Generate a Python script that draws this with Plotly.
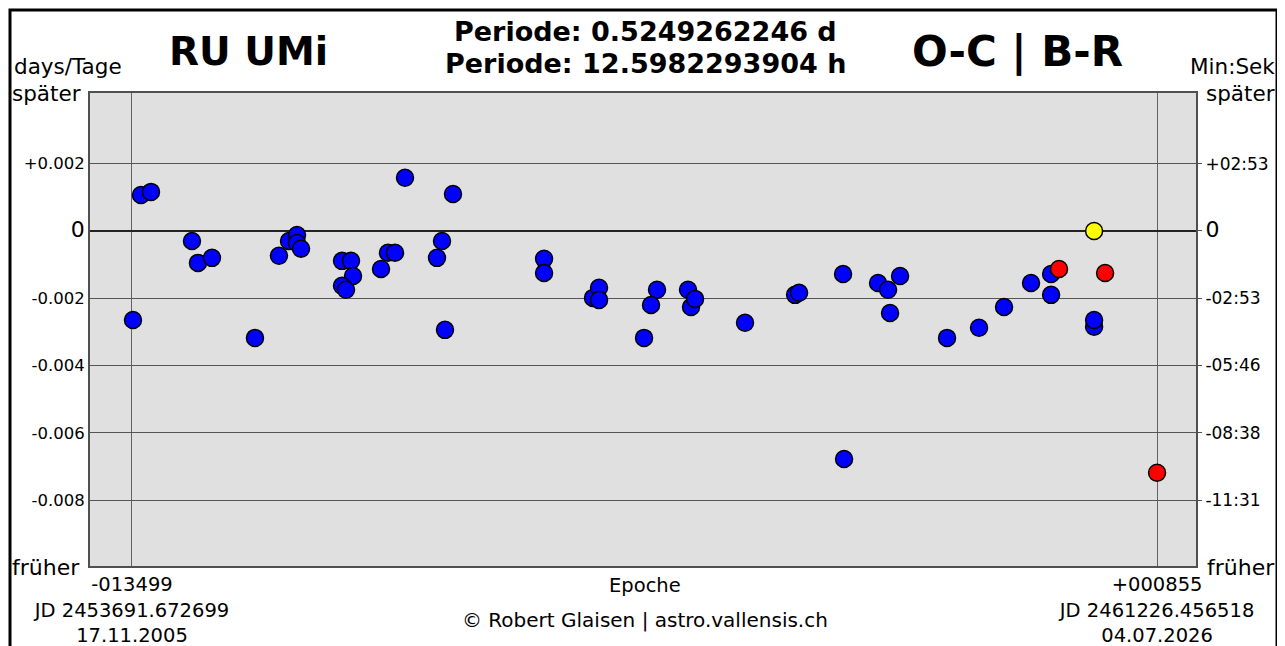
import plotly.graph_objects as go

# ---- data (epoch, O-C in days) ----
epoch_blue = [-13485, -13373, -13233, -12659, -12575, -12379, -11777, -11441, -11300, -11188,
              -11188, -11132, -10558, -10432, -10404, -10558, -10502, -10012, -9914, -9816,
              -9676, -9228, -9158, -9004, -9116, -7729, -7729, -7043, -6959, -6959,
              -6147, -6231, -6329, -5713, -5671, -5615, -4915, -4214, -4158, -3542,
              -3528, -3052, -2912, -2884, -2744, -2086, -1638, -1288, -910, -629,
              -629, -27, -27]
oc_blue = [-0.00265, 0.00107, 0.00116, -0.00030, -0.00095, -0.00080, -0.00318, -0.00074, -0.00030, -0.00012,
           -0.00036, -0.00053, -0.00089, -0.00089, -0.00134, -0.00163, -0.00175, -0.00113, -0.00065, -0.00065,
           0.00158, -0.00080, -0.00030, 0.00110, -0.00294, -0.00083, -0.00125, -0.00199, -0.00169, -0.00205,
           -0.00175, -0.00220, -0.00318, -0.00175, -0.00226, -0.00202, -0.00273, -0.00190, -0.00184, -0.00128,
           -0.00678, -0.00155, -0.00175, -0.00244, -0.00134, -0.00318, -0.00288, -0.00226, -0.00155, -0.00128,
           -0.00190, -0.00285, -0.00265]
epoch_red = [-518, 127, 855]
oc_red = [-0.00113, -0.00125, -0.00719]
epoch_yellow = [-27]
oc_yellow = [0.0]

y_tickvals = [-0.008, -0.006, -0.004, -0.002, 0.0, 0.002]
y_ticktext_left = ["-0.008", "-0.006", "-0.004", "-0.002", "<span style='font-size:22px'>0</span>", "+0.002"]
y_ticktext_right = ["-11:31", "-08:38", "-05:46", "-02:53", "<span style='font-size:22px'>0</span>", "+02:53"]
x_tickvals = [-13499, 855]
x_ticktext = ["-013499<br>JD 2453691.672699<br>17.11.2005",
              "+000855<br>JD 2461226.456518<br>04.07.2026"]

FONT = "DejaVu Sans"
YR = [-0.00996, 0.0041]
XR = [-14087, 1400]

fig = go.Figure()
mk = dict(size=17, line=dict(color="black", width=1.5))
fig.add_trace(go.Scatter(x=epoch_blue, y=oc_blue, mode="markers",
                         marker=dict(color="#0000ff", **mk), showlegend=False))
fig.add_trace(go.Scatter(x=epoch_red, y=oc_red, mode="markers",
                         marker=dict(color="#ff0000", **mk), showlegend=False))
fig.add_trace(go.Scatter(x=epoch_yellow, y=oc_yellow, mode="markers",
                         marker=dict(color="#ffff00", **mk), showlegend=False))
# invisible trace for right axis
fig.add_trace(go.Scatter(x=epoch_yellow, y=oc_yellow, yaxis="y2", mode="markers",
                         marker=dict(opacity=0), showlegend=False, hoverinfo="skip"))

# page has an 8px body margin -> figure is shifted by 8px
fig.update_layout(
    width=1277, height=638,
    margin=dict(l=82, r=89, t=85, b=80, autoexpand=False),
    paper_bgcolor="white", plot_bgcolor="#e0e0e0",
    font=dict(family=FONT, color="black"),
    xaxis=dict(range=XR, tickvals=x_tickvals, ticktext=x_ticktext, automargin=False,
               tickfont=dict(size=19.5), showgrid=True, gridcolor="#626262", gridwidth=1.2,
               zeroline=False, showline=True, linecolor="#505050", linewidth=2, mirror=True,
               ticks=""),
    yaxis=dict(range=YR, tickvals=y_tickvals, ticktext=y_ticktext_left, automargin=False,
               tickfont=dict(size=16.5), showgrid=True, gridcolor="#555555", gridwidth=1,
               zeroline=True, zerolinecolor="#222222", zerolinewidth=1.6,
               showline=True, linecolor="#505050", linewidth=2, mirror=True, ticks=""),
    yaxis2=dict(range=YR, overlaying="y", side="right", tickvals=y_tickvals, automargin=False,
                ticktext=y_ticktext_right, tickfont=dict(size=17), showgrid=False,
                zeroline=False, ticks="outside", ticklen=5, tickcolor="#505050"),
)

def px2x(px):
    return (px - 90) / 1106

def px2y(py):
    return (566 - py) / 473

ann = [
    dict(text="<b>RU UMi</b>", x=px2x(248), y=px2y(52), size=39, xanchor="center"),
    dict(text="<b>Periode: 0.5249262246 d</b>", x=px2x(645), y=px2y(31), size=27, xanchor="center"),
    dict(text="<b>Periode: 12.5982293904 h</b>", x=px2x(645), y=px2y(64), size=27, xanchor="center"),
    dict(text="<b>O-C | B-R</b>", x=px2x(1017), y=px2y(52), size=42, xanchor="center"),
    dict(text="days/Tage", x=px2x(12), y=px2y(66), size=21.5, xanchor="left"),
    dict(text="später", x=px2x(10), y=px2y(93), size=21.5, xanchor="left"),
    dict(text="früher", x=px2x(10), y=px2y(567), size=22, xanchor="left"),
    dict(text="Min:Sek", x=px2x(1277), y=px2y(66), size=21.5, xanchor="right"),
    dict(text="später", x=px2x(1277), y=px2y(93), size=21.5, xanchor="right"),
    dict(text="früher", x=px2x(1277), y=px2y(567), size=22, xanchor="right"),
    dict(text="Epoche", x=px2x(645), y=px2y(585), size=19.5, xanchor="center"),
    dict(text="© Robert Glaisen | astro.vallensis.ch", x=px2x(645), y=px2y(620), size=20, xanchor="center"),
]
for a in ann:
    fig.add_annotation(text=a["text"], x=a["x"], y=a["y"], xref="paper", yref="paper",
                       xanchor=a["xanchor"], yanchor="middle", showarrow=False,
                       font=dict(family=FONT, size=a["size"], color="black"))

# outer frame
fig.add_shape(type="rect", xref="paper", yref="paper",
              x0=px2x(10), x1=px2x(1277), y0=px2y(670), y1=px2y(10),
              line=dict(color="black", width=3), fillcolor="rgba(0,0,0,0)", layer="above")

fig.write_html("out.html")
